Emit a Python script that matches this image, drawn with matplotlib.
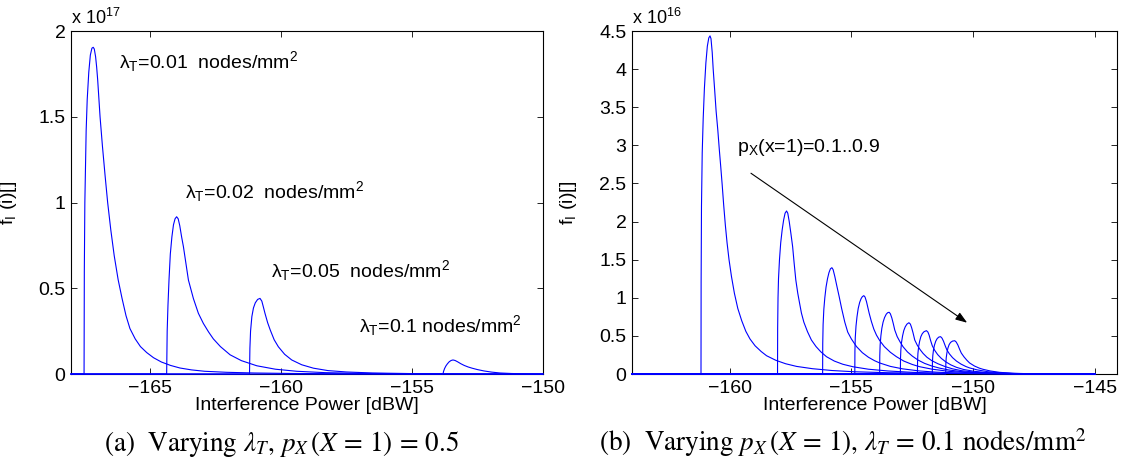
import matplotlib
matplotlib.use('Agg')
import matplotlib.pyplot as plt
from matplotlib.ticker import FuncFormatter

plt.rcParams['font.family'] = ['Liberation Sans', 'DejaVu Sans']
plt.rcParams['mathtext.fontset'] = 'custom'
plt.rcParams['mathtext.rm'] = 'Liberation Sans'
plt.rcParams['mathtext.it'] = 'Liberation Sans:italic'
plt.rcParams['mathtext.sf'] = 'Liberation Sans'

# ---- panel (a): varying lambda_T, values in 1e17 ----
lam001_x = [-168, -167.50, -167.49, -167.47, -167.42, -167.38, -167.32, -167.26, -167.20, -167.15,
            -167.11, -167.06, -167.02, -166.98, -166.89, -166.80, -166.70, -166.60, -166.48, -166.35,
            -166.20, -166.05, -165.90, -165.75, -165.55, -165.35, -165.11, -164.85, -164.55, -164.20,
            -163.84, -163.40, -162.90, -162.06, -161.0, -159.5, -157.5, -155.0, -150]
lam001_y = [0, 0, 0.6, 1.0, 1.42, 1.60, 1.76, 1.86, 1.90, 1.905,
            1.895, 1.85, 1.79, 1.714, 1.50, 1.33, 1.16, 1.0, 0.84, 0.69,
            0.55, 0.44, 0.34, 0.265, 0.205, 0.16, 0.125, 0.095, 0.07, 0.05,
            0.035, 0.024, 0.016, 0.010, 0.006, 0.003, 0.0015, 0.0005, 0]

lam002_x = [-168, -164.35, -164.33, -164.30, -164.26, -164.21, -164.15, -164.09, -164.03, -163.97,
            -163.91, -163.85, -163.78, -163.71, -163.62, -163.52, -163.33, -163.14, -162.95, -162.75,
            -162.57, -162.30, -161.93, -161.50, -160.91, -160.2, -159.39, -158.3, -157.0, -155.0,
            -152.5, -150]
lam002_y = [0, 0, 0.25, 0.40, 0.55, 0.70, 0.80, 0.87, 0.905, 0.917,
            0.905, 0.865, 0.80, 0.742, 0.65, 0.548, 0.44, 0.354, 0.295, 0.245,
            0.205, 0.16, 0.112, 0.078, 0.048, 0.028, 0.016, 0.008, 0.004, 0.0015,
            0.0005, 0]

lam005_x = [-168, -161.19, -161.175, -161.15, -161.10, -161.04, -160.97, -160.88, -160.79, -160.72,
            -160.66, -160.60, -160.50, -160.40, -160.25, -160.09, -159.85, -159.58, -159.20, -158.75,
            -158.2, -157.5, -156.5, -155.0, -153.0, -150]
lam005_y = [0, 0, 0.15, 0.25, 0.335, 0.385, 0.415, 0.435, 0.441, 0.425,
            0.39, 0.354, 0.30, 0.257, 0.20, 0.159, 0.115, 0.082, 0.054, 0.034,
            0.02, 0.012, 0.006, 0.0025, 0.001, 0]

lam01_x = [-168, -153.81, -153.79, -153.75, -153.70, -153.64, -153.57, -153.50, -153.43, -153.35,
           -153.25, -153.13, -153.00, -152.85, -152.70, -152.50, -152.25, -151.95, -151.63, -151.2,
           -150.6, -150]
lam01_y = [0, 0, 0.015, 0.032, 0.047, 0.06, 0.072, 0.079, 0.082, 0.079,
           0.071, 0.06, 0.05, 0.041, 0.034, 0.026, 0.018, 0.011, 0.006, 0.003,
           0.001, 0]

lam_labels = [r'$\mathrm{\lambda}_{\mathrm{T}}$=0.01  nodes/mm$^{\mathrm{2}}$',
              r'$\mathrm{\lambda}_{\mathrm{T}}$=0.02  nodes/mm$^{\mathrm{2}}$',
              r'$\mathrm{\lambda}_{\mathrm{T}}$=0.05  nodes/mm$^{\mathrm{2}}$',
              r'$\mathrm{\lambda}_{\mathrm{T}}$=0.1 nodes/mm$^{\mathrm{2}}$']
lam_label_xy = [(-166.15, 1.782), (-163.65, 1.026), (-160.37, 0.567), (-157.0, 0.247)]

# ---- panel (b): varying p_X, values in 1e16 ----
p01_x = [-164, -161.17, -161.165, -161.15, -161.12, -161.08, -161.03, -160.97, -160.91, -160.85,
         -160.80, -160.76, -160.71, -160.67, -160.61, -160.55, -160.48, -160.42, -160.36, -160.30,
         -160.24, -160.17, -160.10, -160.02, -159.92, -159.80, -159.66, -159.50, -159.33, -159.16,
         -158.95, -158.70, -158.48, -158.10, -157.70, -157.25, -156.6, -155.8, -154.9, -153.5,
         -152.0, -150.5, -149.0, -147.0, -145]
p01_y = [0, 0, 1.2, 2.2, 2.9, 3.35, 3.75, 4.08, 4.30, 4.41,
         4.436, 4.40, 4.22, 4.0, 3.73, 3.45, 3.20, 2.95, 2.72, 2.48,
         2.22, 1.95, 1.72, 1.50, 1.28, 1.06, 0.86, 0.70, 0.56, 0.46,
         0.37, 0.295, 0.24, 0.18, 0.135, 0.10, 0.07, 0.046, 0.03, 0.017,
         0.01, 0.006, 0.003, 0.001, 0]

p02_x = [-164, -158.03, -158.025, -158.01, -157.99, -157.95, -157.90, -157.84, -157.78, -157.72,
         -157.66, -157.61, -157.55, -157.48, -157.41, -157.35, -157.28, -157.20, -157.12, -157.05,
         -156.95, -156.80, -156.64, -156.45, -156.25, -156.02, -155.70, -155.35, -154.93, -154.3,
         -153.5, -152.5, -151.5, -150.0, -148.0, -146.5, -145]
p02_y = [0, 0, 0.6, 1.0, 1.25, 1.50, 1.72, 1.89, 2.02, 2.11,
         2.139, 2.11, 2.0, 1.84, 1.67, 1.46, 1.234, 1.06, 0.92, 0.80,
         0.68, 0.555, 0.446, 0.36, 0.29, 0.227, 0.17, 0.128, 0.095, 0.063,
         0.04, 0.022, 0.012, 0.006, 0.002, 0.0007, 0]

p03_x = [-164, -156.18, -156.175, -156.16, -156.13, -156.09, -156.04, -155.98, -155.92, -155.86,
         -155.80, -155.75, -155.68, -155.60, -155.50, -155.40, -155.27, -155.15, -155.0, -154.79,
         -154.55, -154.30, -154.05, -153.84, -153.4, -152.9, -152.2, -151.5, -150.5, -149.3,
         -148.0, -146.5, -145]
p03_y = [0, 0, 0.4, 0.65, 0.85, 1.0, 1.14, 1.25, 1.33, 1.38,
         1.395, 1.37, 1.28, 1.16, 1.014, 0.86, 0.68, 0.55, 0.46, 0.36,
         0.28, 0.22, 0.175, 0.145, 0.10, 0.068, 0.04, 0.024, 0.012, 0.005,
         0.002, 0.0006, 0]

p04_x = [-164, -154.86, -154.855, -154.84, -154.81, -154.77, -154.72, -154.66, -154.60, -154.55,
         -154.49, -154.44, -154.38, -154.33, -154.27, -154.18, -154.08, -153.97, -153.84, -153.65,
         -153.40, -153.15, -152.85, -152.50, -152.20, -151.7, -151.0, -150.2, -149.5, -148.5,
         -147.0, -145]
p04_y = [0, 0, 0.3, 0.48, 0.63, 0.75, 0.86, 0.94, 0.99, 1.015,
         1.028, 1.01, 0.95, 0.88, 0.797, 0.69, 0.59, 0.51, 0.44, 0.36,
         0.285, 0.227, 0.17, 0.125, 0.096, 0.064, 0.035, 0.017, 0.009, 0.004,
         0.001, 0]

p05_x = [-164, -153.84, -153.835, -153.82, -153.79, -153.75, -153.70, -153.64, -153.57, -153.51,
         -153.45, -153.40, -153.34, -153.28, -153.22, -153.12, -153.00, -152.88, -152.70, -152.50,
         -152.27, -152.0, -151.70, -151.38, -151.0, -150.5, -149.9, -149.2, -148.3, -147.0,
         -145]
p05_y = [0, 0, 0.24, 0.38, 0.5, 0.6, 0.68, 0.74, 0.785, 0.805,
         0.81, 0.79, 0.735, 0.66, 0.577, 0.49, 0.42, 0.358, 0.29, 0.235,
         0.184, 0.14, 0.105, 0.077, 0.053, 0.032, 0.017, 0.008, 0.003, 0.001,
         0]

p06_x = [-164, -152.99, -152.985, -152.97, -152.94, -152.90, -152.85, -152.79, -152.72, -152.64,
         -152.58, -152.53, -152.47, -152.40, -152.30, -152.18, -152.06, -151.90, -151.70, -151.45,
         -151.15, -150.85, -150.5, -150.0, -149.4, -148.6, -147.5, -145]
p06_y = [0, 0, 0.2, 0.32, 0.42, 0.50, 0.57, 0.62, 0.655, 0.673,
         0.655, 0.61, 0.54, 0.446, 0.38, 0.32, 0.271, 0.22, 0.175, 0.135,
         0.097, 0.068, 0.045, 0.026, 0.013, 0.005, 0.0015, 0]

p07_x = [-164, -152.29, -152.285, -152.27, -152.24, -152.20, -152.15, -152.09, -152.02, -151.92,
         -151.86, -151.81, -151.75, -151.68, -151.58, -151.46, -151.31, -151.13, -150.92, -150.69,
         -150.40, -150.0, -149.5, -148.9, -148.0, -147.0, -145]
p07_y = [0, 0, 0.17, 0.27, 0.36, 0.43, 0.49, 0.53, 0.555, 0.569,
         0.55, 0.51, 0.44, 0.37, 0.31, 0.255, 0.205, 0.16, 0.12, 0.088,
         0.06, 0.037, 0.02, 0.01, 0.004, 0.0012, 0]

p08_x = [-164, -151.68, -151.675, -151.66, -151.63, -151.59, -151.54, -151.48, -151.41, -151.34,
         -151.28, -151.22, -151.15, -151.08, -150.98, -150.85, -150.69, -150.50, -150.30, -150.15,
         -149.85, -149.4, -148.9, -148.3, -147.5, -146.5, -145]
p08_y = [0, 0, 0.15, 0.24, 0.32, 0.38, 0.43, 0.465, 0.485, 0.49,
         0.47, 0.43, 0.37, 0.315, 0.265, 0.215, 0.17, 0.13, 0.098, 0.08,
         0.055, 0.03, 0.016, 0.007, 0.0025, 0.0008, 0]

p09_x = [-164, -151.13, -151.125, -151.11, -151.08, -151.04, -150.99, -150.93, -150.85, -150.76,
         -150.70, -150.63, -150.56, -150.49, -150.38, -150.26, -150.15, -149.95, -149.75, -149.60,
         -149.30, -148.92, -148.4, -147.7, -146.8, -145]
p09_y = [0, 0, 0.13, 0.21, 0.28, 0.34, 0.385, 0.415, 0.432, 0.437,
         0.42, 0.38, 0.325, 0.275, 0.225, 0.18, 0.145, 0.105, 0.077, 0.062,
         0.04, 0.022, 0.01, 0.004, 0.0012, 0]

p_label = r'p$_{\mathrm{X}}$(x=1)=0.1..0.9'
p_label_xy = (-159.70, 2.917)
arrow_start = (-159.12, 2.634)
arrow_end = (-150.25, 0.673)

BLUE = '#0000ff'
FS = 14


def matlab_fmt(v, pos):
    return f'{v:g}'.replace('-', '\u2212')


def style_axes(ax, xlim, ylim, xticks, yticks, power):
    ax.set_xlim(*xlim)
    ax.set_ylim(*ylim)
    ax.set_xticks(xticks)
    ax.set_yticks(yticks)
    ax.xaxis.set_major_formatter(FuncFormatter(matlab_fmt))
    ax.yaxis.set_major_formatter(FuncFormatter(matlab_fmt))
    ax.tick_params(direction='in', top=True, right=True, length=4, width=0.6,
                   labelsize=FS, pad=4)
    for s in ax.spines.values():
        s.set_linewidth(0.8)
    ax.set_xlabel('Interference Power [dBW]', fontsize=FS)
    ax.xaxis.set_label_coords(0.5, -0.068)
    ax.set_ylabel(r'f$_{\mathrm{I}}$ (i)[]', fontsize=FS)
    ax.yaxis.set_label_coords(-0.11, 0.5)
    ax.text(0.0, 1.008, r'x 10$^{\mathrm{%d}}$' % power, transform=ax.transAxes,
            ha='left', va='bottom', fontsize=13)


fig = plt.figure(figsize=(11.28, 4.67), dpi=100)
ax1 = fig.add_axes([0.0629, 0.1991, 0.4184, 0.7345])
ax2 = fig.add_axes([0.5603, 0.1991, 0.4300, 0.7345])

# panel (a)
for xs, ys in [(lam001_x, lam001_y), (lam002_x, lam002_y), (lam005_x, lam005_y), (lam01_x, lam01_y)]:
    ax1.plot(xs, ys, color=BLUE, lw=0.8, zorder=3, clip_on=False)
for lbl, (tx, ty) in zip(lam_labels, lam_label_xy):
    ax1.text(tx, ty, lbl, fontsize=FS, ha='left', va='baseline')
style_axes(ax1, (-168, -150), (0, 2), [-165, -160, -155, -150], [0, 0.5, 1, 1.5, 2], 17)

# panel (b)
for xs, ys in [(p01_x, p01_y), (p02_x, p02_y), (p03_x, p03_y), (p04_x, p04_y), (p05_x, p05_y),
               (p06_x, p06_y), (p07_x, p07_y), (p08_x, p08_y), (p09_x, p09_y)]:
    ax2.plot(xs, ys, color=BLUE, lw=0.8, zorder=3, clip_on=False)
ax2.text(p_label_xy[0], p_label_xy[1], p_label, fontsize=FS, ha='left', va='baseline')
ax2.annotate('', xy=arrow_end, xytext=arrow_start,
             arrowprops=dict(arrowstyle='-|>,head_length=0.7,head_width=0.25',
                             color='black', lw=0.8, shrinkA=0, shrinkB=0))
style_axes(ax2, (-164, -144.1), (0, 4.5), [-160, -155, -150, -145],
           [0, 0.5, 1, 1.5, 2, 2.5, 3, 3.5, 4, 4.5], 16)

# captions
cap_kw = dict(fontsize=19.5, family='STIXGeneral', math_fontfamily='stix',
              ha='center', va='baseline')
fig.text(0.2496, 0.035, r'(a)  Varying $\lambda_T$, $p_X\,(X\, =\, 1)\, =\, 0.5$', **cap_kw)
fig.text(0.747, 0.035, r'(b)  Varying $p_X\,(X\, =\, 1)$, $\lambda_T\, =\, 0.1$ nodes/mm$^2$', **cap_kw)

fig.savefig('out.png', dpi=100)
